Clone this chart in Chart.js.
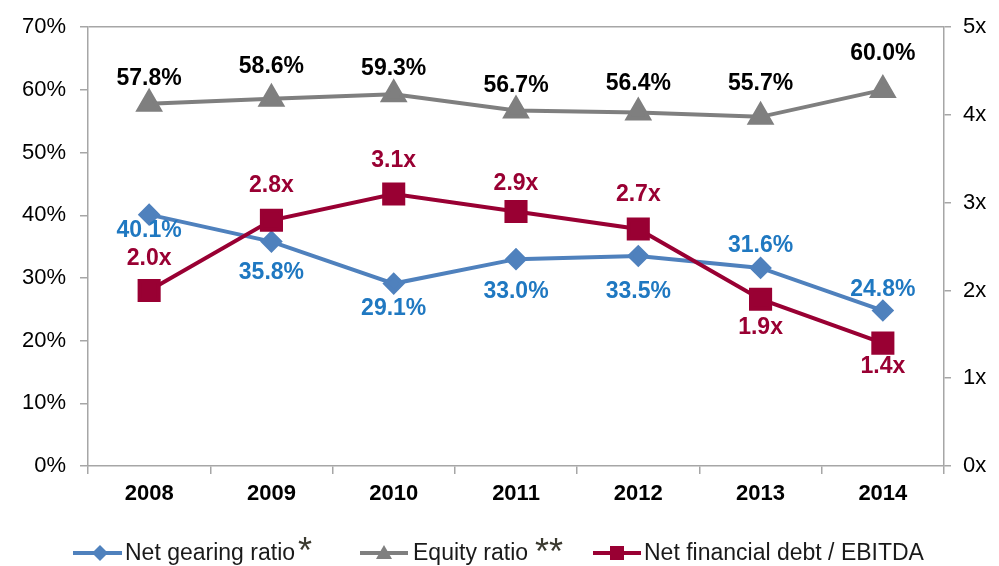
<!DOCTYPE html>
<html>
<head>
<meta charset="utf-8">
<script src="https://cdn.jsdelivr.net/npm/chart.js@4/dist/chart.umd.min.js"></script>
<style>
  html, body { margin: 0; padding: 0; background: #fff; }
  #wrap { position: relative; width: 999px; height: 566px; font-family: "Liberation Sans", Arial, sans-serif; }
  #wrap canvas { position: absolute; left: 0; top: 0; }
  .lg { position: absolute; top: 540px; font-size: 23px; line-height: 24px; color: #1a1a1a; white-space: nowrap; }
  .star { position: absolute; color: #3b3a30; font-size: 36px; line-height: 36px; }
  svg { position: absolute; }
</style>
</head>
<body>
<div id="wrap">
  <canvas id="chart" width="999" height="566"></canvas>

  <!-- legend -->
  <svg style="left:72px;top:543px" width="52" height="20">
    <line x1="1" y1="10" x2="50" y2="10" stroke="#4F81BD" stroke-width="4"/>
    <polygon points="28,2 36,10 28,18 20,10" fill="#4F81BD"/>
  </svg>
  <span class="lg" style="left:125px">Net gearing ratio</span>
  <span class="star" style="left:298px;top:533px">*</span>

  <svg style="left:359px;top:543px" width="52" height="20">
    <line x1="1" y1="10" x2="49" y2="10" stroke="#7F7F7F" stroke-width="4"/>
    <polygon points="25,2 33,16 17,16" fill="#7F7F7F"/>
  </svg>
  <span class="lg" style="left:413px">Equity ratio</span>
  <span class="star" style="left:535px;top:534px">**</span>

  <svg style="left:592px;top:543px" width="52" height="20">
    <line x1="1" y1="10" x2="49" y2="10" stroke="#990033" stroke-width="4"/>
    <rect x="18" y="3" width="14" height="14" fill="#990033"/>
  </svg>
  <span class="lg" style="left:644px">Net financial debt / EBITDA</span>
</div>

<script>
// ── Data ──────────────────────────────────────────────────────────
const years        = ['2008', '2009', '2010', '2011', '2012', '2013', '2014'];
const netGearing   = [40.1, 35.8, 29.1, 33.0, 33.5, 31.6, 24.8];   // %
const equityRatio  = [57.8, 58.6, 59.3, 56.7, 56.4, 55.7, 60.0];   // %
const debtToEbitda = [2.0, 2.8, 3.1, 2.9, 2.7, 1.9, 1.4];          // x

// where each value label sits relative to its point, and how far away
const gearingLabelPos = ['below', 'below', 'below', 'below', 'below', 'above', 'above'];
const gearingLabelGap = [16, 31, 25, 33, 36, 22, 21];
const equityLabelPos  = ['above', 'above', 'above', 'above', 'above', 'above', 'above'];
const equityLabelGap  = [25, 32, 26, 25, 29, 33, 36];
const debtLabelPos    = ['above', 'above', 'above', 'above', 'above', 'below', 'below'];
const debtLabelGap    = [32, 35, 33, 28, 34, 28, 24];

const FONT = '"Liberation Sans", Arial, sans-serif';
const AXIS = '#A6A6A6';

// ── Value labels drawn next to each point ─────────────────────────
const valueLabels = {
  id: 'valueLabels',
  afterDatasetsDraw(chart) {
    const ctx = chart.ctx;
    ctx.save();
    ctx.font = 'bold 23px ' + FONT;
    ctx.textAlign = 'center';
    ctx.textBaseline = 'middle';
    chart.data.datasets.forEach((ds, i) => {
      chart.getDatasetMeta(i).data.forEach((pt, j) => {
        const gap = ds.labelGap[j];
        const dy = ds.labelPos[j] === 'above' ? -gap : gap;
        ctx.fillStyle = ds.labelColor;
        ctx.fillText(ds.format(ds.data[j]), pt.x, pt.y + dy);
      });
    });
    ctx.restore();
  }
};

new Chart(document.getElementById('chart').getContext('2d'), {
  type: 'line',
  data: {
    labels: years,
    datasets: [
      {
        label: 'Net gearing ratio',
        data: netGearing,
        yAxisID: 'y',
        borderColor: '#4F81BD',
        backgroundColor: '#4F81BD',
        borderWidth: 4,
        pointStyle: 'rectRot',
        pointRadius: 8.5,
        order: 2,
        labelPos: gearingLabelPos,
        labelGap: gearingLabelGap,
        labelColor: '#1F78C1',
        format: v => v.toFixed(1) + '%'
      },
      {
        label: 'Equity ratio',
        data: equityRatio,
        yAxisID: 'y',
        borderColor: '#7F7F7F',
        backgroundColor: '#7F7F7F',
        borderWidth: 4,
        pointStyle: 'triangle',
        pointRadius: 12,
        order: 3,
        labelPos: equityLabelPos,
        labelGap: equityLabelGap,
        labelColor: '#000000',
        format: v => v.toFixed(1) + '%'
      },
      {
        label: 'Net financial debt / EBITDA',
        data: debtToEbitda,
        yAxisID: 'y1',
        borderColor: '#990033',
        backgroundColor: '#990033',
        borderWidth: 4,
        pointStyle: 'rect',
        pointRadius: 13.5,
        order: 1,
        labelPos: debtLabelPos,
        labelGap: debtLabelGap,
        labelColor: '#990033',
        format: v => v.toFixed(1) + 'x'
      }
    ]
  },
  options: {
    responsive: false,
    animation: false,
    devicePixelRatio: 1,
    layout: { padding: { top: 21, bottom: 55, left: 0, right: 0 } },
    elements: { line: { tension: 0 }, point: { borderWidth: 0 } },
    plugins: {
      legend: { display: false },
      tooltip: { enabled: false }
    },
    scales: {
      x: {
        offset: true,
        grid: { display: true, offset: true, drawOnChartArea: false, tickLength: 8, color: AXIS, lineWidth: 1.5 },
        border: { display: true, color: AXIS, width: 1.5 },
        ticks: { color: '#000', font: { family: FONT, size: 22, weight: 'bold' }, padding: 7 },
        afterFit: s => { s.height = 45; }
      },
      y: {
        position: 'left',
        min: 0,
        max: 70,
        ticks: { stepSize: 10, color: '#000', font: { family: FONT, size: 22 }, padding: 14,
                 callback: v => v + '%' },
        grid: { drawOnChartArea: true, tickLength: 8, lineWidth: 1.5, tickColor: AXIS,
                color: c => c.tick && c.tick.value === 70 ? AXIS : 'rgba(0,0,0,0)' },
        border: { display: true, color: AXIS, width: 1.5 },
        afterFit: s => { s.width = 88; }
      },
      y1: {
        position: 'right',
        min: 0,
        max: 5,
        ticks: { stepSize: 1, color: '#000', font: { family: FONT, size: 22 }, padding: 12,
                 callback: v => v + 'x' },
        grid: { drawOnChartArea: false, tickLength: 7, color: AXIS, lineWidth: 1.5 },
        border: { display: true, color: AXIS, width: 1.5 },
        afterFit: s => { s.width = 55; }
      }
    }
  },
  plugins: [valueLabels]
});
</script>
</body>
</html>
